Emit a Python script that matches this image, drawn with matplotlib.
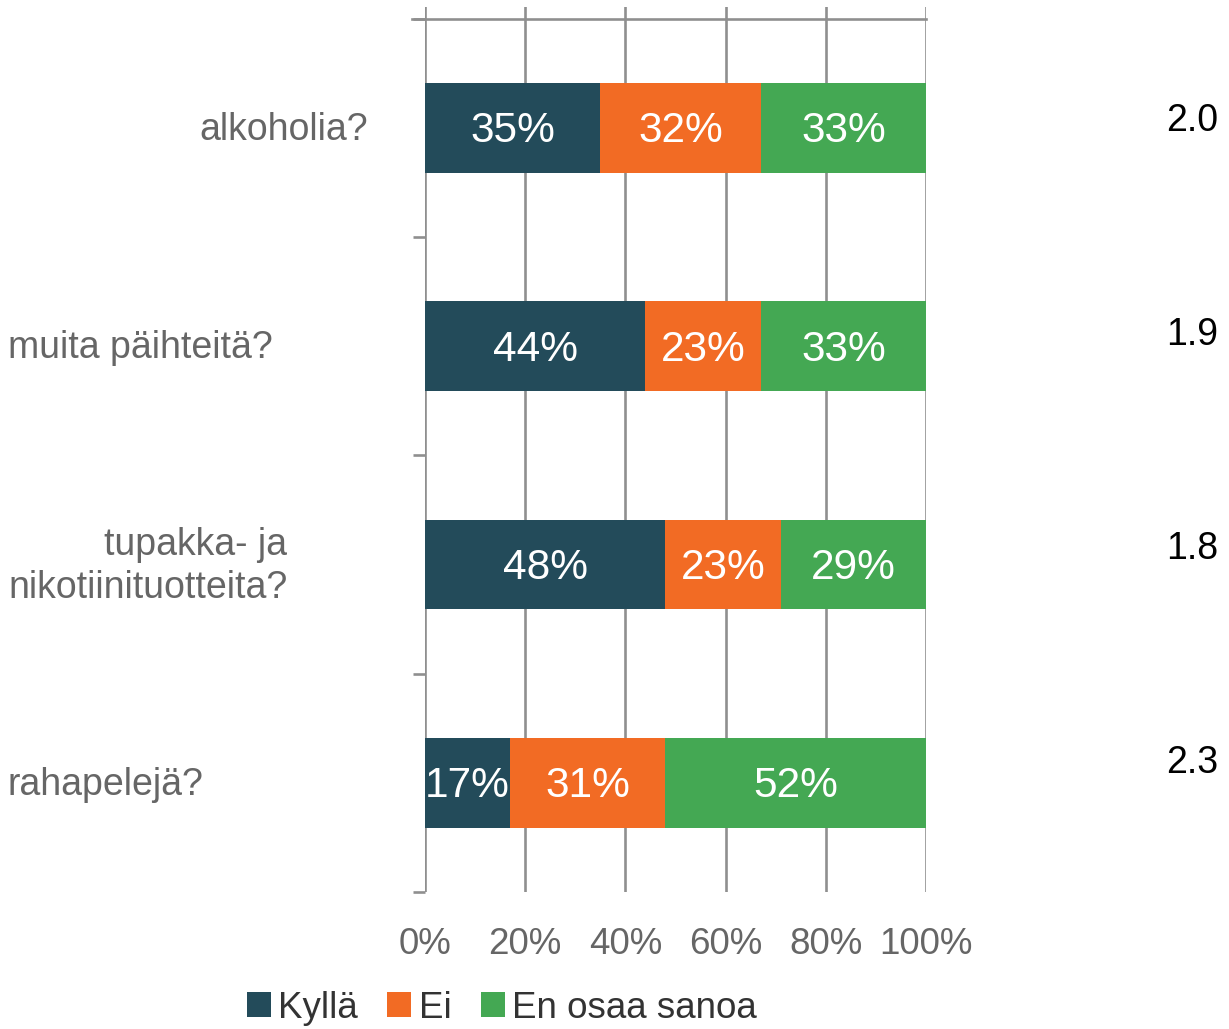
import numpy as np
import matplotlib.pyplot as plt
from matplotlib.patches import Patch

plt.rcParams['font.family'] = ['Liberation Sans', 'DejaVu Sans']

# data
questions = ['alkoholia?', 'muita päihteitä?', 'tupakka- ja\nnikotiinituotteita?', 'rahapelejä?']
kylla = [35, 44, 48, 17]
ei = [32, 23, 23, 31]
en_osaa = [33, 33, 29, 52]
averages = ['2.0', '1.9', '1.8', '2.3']
series_names = ['Kyllä', 'Ei', 'En osaa sanoa']
colors = ['#234B5A', '#F26B24', '#44A853']
grid_col = '#8F8F8F'

W, H = 1229, 1029
fig = plt.figure(figsize=(W / 100, H / 100), dpi=100)
ax = fig.add_axes([425 / W, 1 - 892 / H, (926 - 425) / W, (892 - 7) / H])

y = np.arange(len(questions))
left = np.zeros(len(questions))
for vals, col in zip([kylla, ei, en_osaa], colors):
    vals = np.array(vals, dtype=float)
    ax.barh(y, vals, left=left, height=0.41, color=col, zorder=3)
    for yi, l, v in zip(y, left, vals):
        ax.text(l + v / 2, yi + 0.015, f'{int(v)}%', ha='center', va='center',
                color='white', fontsize=30.5, zorder=4)
    left += vals

ax.set_xlim(0, 100)
ax.set_ylim(3.5, -0.554)

for xv in range(0, 101, 20):
    ax.axvline(xv, color=grid_col, lw=1.9, zorder=1)
ax.axhline(-0.5, color=grid_col, lw=1.9, zorder=1, xmin=-0.025, clip_on=False)

for s in ax.spines.values():
    s.set_visible(False)

ax.set_xticks(range(0, 101, 20))
ax.set_xticklabels([f'{v}%' for v in range(0, 101, 20)])
ax.tick_params(axis='x', length=0, pad=25, labelsize=26.5, labelcolor='#666666')
ax.set_yticks(np.arange(-0.5, 4.0, 1.0))
ax.set_yticklabels([])
ax.tick_params(axis='y', length=8.6, width=1.9, color=grid_col)

# category labels, placed as in the reference (pixel x of the anchor)
lab_px = [368, 8, 8, 8]
lab_ha = ['right', 'left', 'left', 'left']
for q, yi, px, ha in zip(questions, y, lab_px, lab_ha):
    ax.text((px - 425) / (926 - 425), yi + 0.01, q, transform=ax.get_yaxis_transform(),
            ha=ha, va='center', multialignment='right', fontsize=27,
            color='#666666', linespacing=1.25)

for i, a in enumerate(averages):
    fig.text(1192 / W, 1 - (121 + i * 214) / H, a, ha='center', va='center',
             fontsize=27, color='black')

handles = [Patch(facecolor=c, label=n) for c, n in zip(colors, series_names)]
fig.legend(handles=handles, loc='center', bbox_to_anchor=(502 / W, 1 - 1008 / H),
           ncol=3, frameon=False, fontsize=26.5, handlelength=0.65, handleheight=0.65,
           handletextpad=0.2, columnspacing=0.8, labelcolor='#333333')

fig.savefig('out.png', dpi=100)
